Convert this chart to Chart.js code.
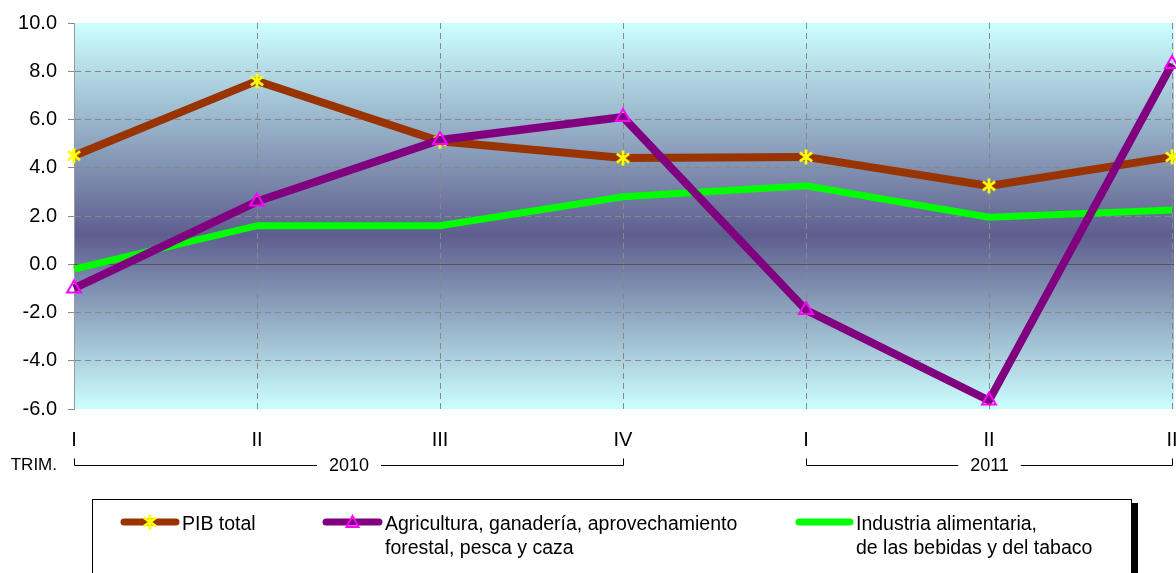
<!DOCTYPE html>
<html>
<head>
<meta charset="utf-8">
<script src="https://cdn.jsdelivr.net/npm/chart.js@4/dist/chart.umd.min.js"></script>
<style>
  html, body { margin: 0; padding: 0; background: #fff; }
  #wrap { width: 1176px; height: 573px; }
</style>
</head>
<body>
<div id="wrap"><canvas id="chart" width="1176" height="573"></canvas></div>
<script>
// quarters (tick labels as printed on the chart)
const quarters = ['I', 'II', 'III', 'IV', 'I', 'II', 'II'];
const years = [
  { label: '2010', from: 0, to: 3 },
  { label: '2011', from: 4, to: 6 }
];

const pibTotal = [4.5, 7.6, 5.1, 4.4, 4.45, 3.25, 4.45];
const agricultura = [-1.0, 2.6, 5.15, 6.1, -1.9, -5.65, 8.3];
const industria = [-0.2, 1.6, 1.6, 2.8, 3.25, 1.95, 2.25];

const yTicks = [-6, -4, -2, 0, 2, 4, 6, 8, 10];

const FONT = '"Liberation Sans", Arial, sans-serif';

// yellow asterisk marker
function makeStar() {
  const c = document.createElement('canvas');
  c.width = 18; c.height = 18;
  const g = c.getContext('2d');
  g.strokeStyle = '#ffff00';
  g.lineWidth = 2.8;
  g.lineCap = 'butt';
  const cx = 9, cy = 9, r = 7.5;
  [90, 35, 145].forEach(function (deg) {
    const a = deg * Math.PI / 180;
    g.beginPath();
    g.moveTo(cx - r * Math.cos(a), cy - r * Math.sin(a));
    g.lineTo(cx + r * Math.cos(a), cy + r * Math.sin(a));
    g.stroke();
  });
  return c;
}
const starMarker = makeStar();

const bgPlugin = {
  id: 'bg',
  beforeDraw(chart) {
    const { ctx, chartArea: a } = chart;
    const grad = ctx.createLinearGradient(0, a.top, 0, a.bottom);
    grad.addColorStop(0, '#ccffff');
    grad.addColorStop(0.55, '#5e5e8e');
    grad.addColorStop(1, '#ccffff');
    ctx.save();
    ctx.fillStyle = grad;
    ctx.fillRect(a.left, a.top, a.right - a.left + 2, a.bottom - a.top);
    ctx.restore();
  },
  beforeDatasetsDraw(chart) {
    const { ctx, chartArea: a } = chart;
    const y = Math.round(chart.scales.y.getPixelForValue(0)) + 0.5;
    ctx.save();
    ctx.strokeStyle = '#555555';
    ctx.lineWidth = 1;
    ctx.beginPath();
    ctx.moveTo(a.left, y);
    ctx.lineTo(a.right + 2, y);
    ctx.stroke();
    ctx.restore();
  },
  afterDraw(chart) {
    const ctx = chart.ctx;
    const x = chart.scales.x;
    ctx.save();

    // TRIM. and year brackets
    ctx.fillStyle = '#000';
    ctx.font = '17px ' + FONT;
    ctx.textBaseline = 'middle';
    ctx.textAlign = 'right';
    ctx.fillText('TRIM.', 57, 465);

    ctx.font = '18px ' + FONT;
    ctx.strokeStyle = '#000';
    ctx.lineWidth = 1;
    ctx.textAlign = 'center';
    const by = 465.5;
    years.forEach(function (yr) {
      const x0 = Math.round(x.getPixelForValue(yr.from)) + 0.5;
      const x1 = Math.round(x.getPixelForValue(yr.to)) + 0.5;
      const mid = (x0 + x1) / 2;
      const half = ctx.measureText(yr.label).width / 2 + 12;
      ctx.beginPath();
      ctx.moveTo(x0, by - 7);
      ctx.lineTo(x0, by);
      ctx.lineTo(mid - half, by);
      ctx.moveTo(mid + half, by);
      ctx.lineTo(x1, by);
      ctx.lineTo(x1, by - 7);
      ctx.stroke();
      ctx.fillText(yr.label, mid, 466);
    });

    // legend box
    ctx.fillStyle = '#000';
    ctx.fillRect(1132, 503, 6, 70);
    ctx.fillStyle = '#fff';
    ctx.fillRect(93, 499, 1039, 80);
    ctx.strokeStyle = '#000';
    ctx.strokeRect(92.5, 499.5, 1039, 80);

    const items = [
      { ds: 0, x0: 121, x1: 179, tx: 182, lines: ['PIB total'] },
      { ds: 1, x0: 323, x1: 382, tx: 385, lines: ['Agricultura, ganadería, aprovechamiento', 'forestal, pesca y caza'] },
      { ds: 2, x0: 796, x1: 853, tx: 856, lines: ['Industria alimentaria,', 'de las bebidas y del tabaco'] }
    ];
    ctx.font = '19.5px ' + FONT;
    ctx.textAlign = 'left';
    ctx.textBaseline = 'middle';
    items.forEach(function (it) {
      const ds = chart.data.datasets[it.ds];
      ctx.strokeStyle = ds.borderColor;
      ctx.lineWidth = 7;
      ctx.lineCap = 'round';
      ctx.beginPath();
      ctx.moveTo(it.x0 + 3, 522);
      ctx.lineTo(it.x1 - 3, 522);
      ctx.stroke();
      const mx = (it.x0 + it.x1) / 2;
      if (ds.pointStyle instanceof HTMLCanvasElement) {
        ctx.drawImage(ds.pointStyle, mx - 9, 522 - 9);
      } else if (ds.pointStyle === 'triangle') {
        ctx.strokeStyle = ds.pointBorderColor;
        ctx.lineWidth = 2;
        ctx.lineCap = 'butt';
        ctx.beginPath();
        ctx.moveTo(mx, 516);
        ctx.lineTo(mx + 6, 527);
        ctx.lineTo(mx - 6, 527);
        ctx.closePath();
        ctx.stroke();
      }
      ctx.fillStyle = '#000';
      it.lines.forEach(function (t, i) {
        ctx.fillText(t, it.tx, 525 + i * 24);
      });
    });
    ctx.restore();
  }
};

new Chart(document.getElementById('chart'), {
  type: 'line',
  data: {
    labels: quarters,
    datasets: [
      {
        label: 'PIB total',
        data: pibTotal,
        borderColor: '#993300',
        borderWidth: 8,
        pointStyle: starMarker,
        pointRadius: 8,
        pointHoverRadius: 8,
        tension: 0,
        clip: false,
        order: 1
      },
      {
        label: 'Agricultura, ganadería, aprovechamiento forestal, pesca y caza',
        data: agricultura,
        borderColor: '#800080',
        borderWidth: 8,
        pointStyle: 'triangle',
        pointRadius: 8,
        pointHoverRadius: 8,
        pointBorderColor: '#ff00ff',
        pointBackgroundColor: 'rgba(0,0,0,0)',
        pointBorderWidth: 2,
        tension: 0,
        clip: false,
        order: 0
      },
      {
        label: 'Industria alimentaria, de las bebidas y del tabaco',
        data: industria,
        borderColor: '#00ff00',
        borderWidth: 7,
        pointRadius: 0,
        pointHoverRadius: 0,
        tension: 0,
        clip: false,
        order: 2
      }
    ]
  },
  options: {
    responsive: false,
    animation: false,
    events: [],
    layout: { autoPadding: false, padding: { left: 0, right: 4, top: 20, bottom: 0 } },
    plugins: {
      legend: { display: false },
      tooltip: { enabled: false },
      title: { display: false }
    },
    scales: {
      x: {
        offset: false,
        afterFit(scale) {
          scale.height = 164;
          scale.paddingLeft = 0;
          scale.paddingRight = 0;
        },
        grid: {
          color: '#888888',
          drawTicks: false
        },
        border: { display: false, dash: [6, 4] },
        ticks: {
          color: '#000',
          font: { family: FONT, size: 20 },
          padding: 19,
          autoSkip: false,
          maxRotation: 0
        }
      },
      y: {
        min: -6,
        max: 10,
        afterFit(scale) { scale.width = 74; },
        afterBuildTicks(scale) {
          scale.ticks = yTicks.map(function (v) { return { value: v }; });
        },
        grid: {
          color(c) {
            const v = c.tick && c.tick.value;
            return (v === 0 || v === 10 || v === -6) ? 'rgba(0,0,0,0)' : '#888888';
          },
          tickColor: '#888888',
          tickLength: 6
        },
        border: { display: true, color: '#999999', width: 1, dash: [6, 4] },
        ticks: {
          color: '#000',
          font: { family: FONT, size: 20 },
          padding: 11,
          callback(v) { return Number(v).toFixed(1); }
        }
      }
    }
  },
  plugins: [bgPlugin]
});
</script>
</body>
</html>
